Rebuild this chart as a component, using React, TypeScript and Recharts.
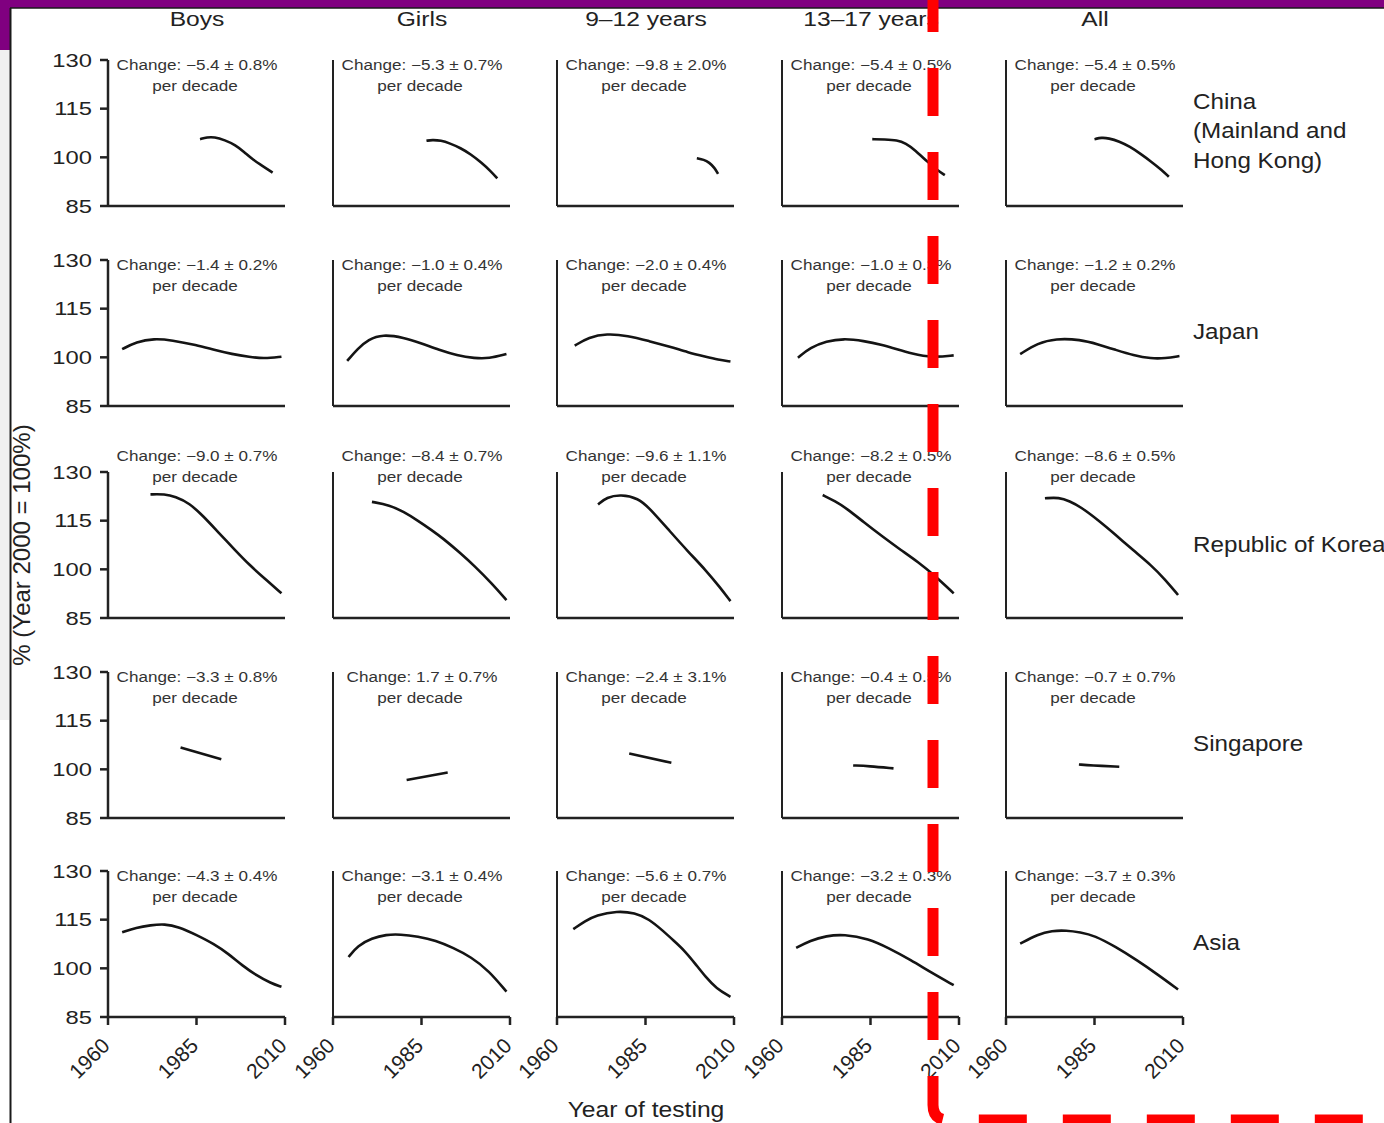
import React from 'react';
import { LineChart, Line, XAxis, YAxis } from 'recharts';

type Pt = [number, number];

const COLUMNS = ['Boys', 'Girls', '9–12 years', '13–17 years', 'All'];
const ROW_LABELS = [['China', '(Mainland and', 'Hong Kong)'], ['Japan'], ['Republic of Korea'], ['Singapore'], ['Asia']];
const X_TICKS = [1960, 1985, 2010];
const Y_TICKS = [85, 100, 115, 130];

// China (Mainland and Hong Kong)
const CHINA_BOYS: Pt[] = [[1986, 105.6], [1988, 106.2], [1990, 106.3], [1993, 105.3], [1996, 103.8], [1998.5, 101.6], [2001, 99.2], [2004, 97.1], [2006.5, 95.3]];
const CHINA_GIRLS: Pt[] = [[1986.4, 105.1], [1988, 105.4], [1990.5, 105.2], [1993, 104.3], [1996, 102.9], [1999, 100.9], [2002, 98.3], [2004.5, 95.8], [2006.4, 93.5]];
const CHINA_9_12: Pt[] = [[1999.5, 99.7], [2001.5, 99.3], [2003, 98.4], [2004.5, 96.8], [2005.5, 94.9]];
const CHINA_13_17: Pt[] = [[1985.5, 105.6], [1989, 105.5], [1992.5, 105.3], [1995, 104.3], [1997.5, 102.3], [2001.5, 98.2], [2004, 96], [2006, 94.5]];
const CHINA_ALL: Pt[] = [[1985, 105.6], [1987, 106.1], [1989, 105.9], [1992, 104.9], [1995, 103.3], [1998, 101.1], [2001, 98.7], [2004, 96.1], [2006, 94]];
const CHINA_CHANGE = ['−5.4 ± 0.8%', '−5.3 ± 0.7%', '−9.8 ± 2.0%', '−5.4 ± 0.5%', '−5.4 ± 0.5%'];

// Japan
const JAPAN_BOYS: Pt[] = [[1964, 102.5], [1968, 104.8], [1973, 105.8], [1978, 105.3], [1985, 103.8], [1990, 102.3], [1995, 101], [2000, 100.1], [2004, 99.6], [2009, 100.2]];
const JAPAN_GIRLS: Pt[] = [[1964, 98.9], [1967, 102.7], [1970, 105.5], [1974, 107.1], [1980, 106.1], [1985, 104.3], [1990, 102.3], [1995, 100.6], [2000, 99.7], [2004, 99.6], [2009, 101]];
const JAPAN_9_12: Pt[] = [[1965, 103.6], [1969, 106.2], [1974, 107.3], [1980, 106.7], [1986, 105], [1992, 103.3], [1997, 101.5], [2002, 100.2], [2005.5, 99.3], [2009, 98.7]];
const JAPAN_13_17: Pt[] = [[1964.5, 99.9], [1968, 103], [1972.5, 105], [1977.5, 105.8], [1983, 105.1], [1988.5, 103.8], [1992.5, 102.5], [1996.5, 101.2], [2002.5, 99.9], [2008.5, 100.6]];
const JAPAN_ALL: Pt[] = [[1964, 101], [1969, 104.4], [1974, 105.8], [1981, 105.5], [1986, 104], [1991, 102.3], [1996, 100.6], [2001, 99.6], [2005, 99.7], [2009, 100.4]];
const JAPAN_CHANGE = ['−1.4 ± 0.2%', '−1.0 ± 0.4%', '−2.0 ± 0.4%', '−1.0 ± 0.3%', '−1.2 ± 0.2%'];

// Republic of Korea
const KOREA_BOYS: Pt[] = [[1972, 123.1], [1976, 123.2], [1979, 122.4], [1983, 120.4], [1987, 116.3], [1991, 111.6], [1996, 105.8], [2000, 101.3], [2004, 97.4], [2009, 92.6]];
const KOREA_GIRLS: Pt[] = [[1971, 120.8], [1976, 119.8], [1980, 117.7], [1984, 115], [1988, 112], [1991, 109.6], [1996, 105], [2000, 101], [2005, 95.5], [2009, 90.5]];
const KOREA_9_12: Pt[] = [[1971.6, 120], [1974, 122.2], [1978, 123.1], [1983, 121.9], [1986, 119], [1992, 111.6], [1997, 105.5], [2002, 99.8], [2006, 94.5], [2009, 90.2]];
const KOREA_13_17: Pt[] = [[1971.5, 122.9], [1975, 121], [1978.5, 118.6], [1983, 114.6], [1988.5, 110], [1993.5, 106], [1998.5, 102.2], [2003, 98.2], [2008.5, 92.6]];
const KOREA_ALL: Pt[] = [[1971, 121.9], [1975, 122.2], [1978, 121], [1981, 119.3], [1986, 115.2], [1991, 110.6], [1996, 105.8], [2001, 101.3], [2005, 96.8], [2008.6, 92.1]];
const KOREA_CHANGE = ['−9.0 ± 0.7%', '−8.4 ± 0.7%', '−9.6 ± 1.1%', '−8.2 ± 0.5%', '−8.6 ± 0.5%'];

// Singapore
const SINGAPORE_BOYS: Pt[] = [[1980.5, 106.7], [1992, 103.1]];
const SINGAPORE_GIRLS: Pt[] = [[1980.8, 96.7], [1992.4, 99]];
const SINGAPORE_9_12: Pt[] = [[1980.4, 104.9], [1992.3, 102]];
const SINGAPORE_13_17: Pt[] = [[1980.1, 101.2], [1984.5, 101], [1991.5, 100.3]];
const SINGAPORE_ALL: Pt[] = [[1980.6, 101.5], [1984, 101.2], [1992, 100.8]];
const SINGAPORE_CHANGE = ['−3.3 ± 0.8%', '1.7 ± 0.7%', '−2.4 ± 3.1%', '−0.4 ± 0.5%', '−0.7 ± 0.7%'];

// Asia
const ASIA_BOYS: Pt[] = [[1964, 111.1], [1968, 112.6], [1972, 113.3], [1976, 113.7], [1980, 112.8], [1985, 110.3], [1990, 107.5], [1994, 104.5], [1998, 100.8], [2002, 97.8], [2006, 95.4], [2009, 94.3]];
const ASIA_GIRLS: Pt[] = [[1964.4, 103.5], [1967, 107], [1971, 109.3], [1975, 110.4], [1979, 110.5], [1984, 109.8], [1989, 108.6], [1994, 106.3], [1999, 103.5], [2004, 99.3], [2009, 92.8]];
const ASIA_9_12: Pt[] = [[1964.6, 112.1], [1968, 114.6], [1971, 116.4], [1977, 117.7], [1982, 117.1], [1986, 115.2], [1990, 111.5], [1993, 108.5], [1996, 105.5], [1999, 101.5], [2002, 97.3], [2005, 93.8], [2009, 91.2]];
const ASIA_13_17: Pt[] = [[1964, 106.3], [1968, 108.6], [1972.5, 110], [1977.5, 110.5], [1984.5, 109.1], [1990, 106.3], [1996.5, 102.5], [2002, 98.8], [2008.5, 94.8]];
const ASIA_ALL: Pt[] = [[1964, 107.6], [1969, 110.5], [1973, 111.6], [1977, 111.7], [1981, 111.1], [1985, 110.1], [1991, 106.6], [1997, 102.5], [2003, 98], [2008.6, 93.5]];
const ASIA_CHANGE = ['−4.3 ± 0.4%', '−3.1 ± 0.4%', '−5.6 ± 0.7%', '−3.2 ± 0.3%', '−3.7 ± 0.3%'];

const SERIES = [
  [CHINA_BOYS, CHINA_GIRLS, CHINA_9_12, CHINA_13_17, CHINA_ALL],
  [JAPAN_BOYS, JAPAN_GIRLS, JAPAN_9_12, JAPAN_13_17, JAPAN_ALL],
  [KOREA_BOYS, KOREA_GIRLS, KOREA_9_12, KOREA_13_17, KOREA_ALL],
  [SINGAPORE_BOYS, SINGAPORE_GIRLS, SINGAPORE_9_12, SINGAPORE_13_17, SINGAPORE_ALL],
  [ASIA_BOYS, ASIA_GIRLS, ASIA_9_12, ASIA_13_17, ASIA_ALL],
];
const CHANGES = [CHINA_CHANGE, JAPAN_CHANGE, KOREA_CHANGE, SINGAPORE_CHANGE, ASIA_CHANGE];

// layout
const FONT = "'Liberation Sans', Arial, Helvetica, sans-serif";
const COL_X = [108, 333, 557, 782, 1006];
const ROW_Y = [60, 260, 472, 672, 871];
const PLOT_W = 177;
const PLOT_H = 146;
const YW = 70;
const TOP = 60;
const INK = '#222';

function Txt({ x, y, size, sx = 1, anchor = 'middle', rotate = 0, color = INK, children }: any) {
  const start = anchor === 'start';
  return (
    <div
      style={{
        position: 'absolute',
        left: x,
        top: y,
        fontFamily: FONT,
        fontSize: size,
        lineHeight: 1,
        color,
        whiteSpace: 'nowrap',
        transformOrigin: start ? 'left center' : 'center center',
        transform: `translate(${start ? 0 : -50}%, -50%) ${rotate ? `rotate(${rotate}deg)` : ''} scaleX(${sx})`,
      }}
    >
      {children}
    </div>
  );
}

const YTick = ({ x, y, payload }: any) => (
  <text
    x={x}
    y={y}
    dy="0.36em"
    textAnchor="end"
    fontFamily={FONT}
    fontSize={19}
    fill={INK}
    transform={`translate(${x},0) scale(1.25,1) translate(${-x},0)`}
  >
    {payload.value}
  </text>
);

const XTick = ({ x, y, payload }: any) => (
  <g transform={`translate(${x + 3},${y + 20})`}>
    <text textAnchor="end" transform="rotate(-45)" fontFamily={FONT} fontSize={21} fill={INK}>
      {payload.value}
    </text>
  </g>
);

function Panel({ row, col }: { row: number; col: number }) {
  const data = SERIES[row][col].map(([year, value]) => ({ year, value }));
  const bottom = row === 4;
  const first = col === 0;
  const xh = bottom ? 80 : 4;
  const mb = bottom ? 0 : 16;
  const axis = { stroke: INK, strokeWidth: 2.5 };
  return (
    <div style={{ position: 'absolute', left: COL_X[col] - YW, top: ROW_Y[row] - TOP }}>
      <LineChart
        width={YW + PLOT_W + 30}
        height={TOP + PLOT_H + xh + mb}
        data={data}
        margin={{ top: TOP, right: 30, bottom: mb, left: 0 }}
      >
        <XAxis
          type="number"
          dataKey="year"
          domain={[1960, 2010]}
          ticks={X_TICKS}
          interval={0}
          height={xh}
          axisLine={axis}
          tickLine={bottom ? axis : false}
          tickSize={8}
          tick={bottom ? XTick : false}
        />
        <YAxis
          type="number"
          domain={[85, 130]}
          ticks={Y_TICKS}
          interval={0}
          width={YW}
          axisLine={first ? axis : { stroke: INK, strokeWidth: 2 }}
          tickLine={first ? axis : false}
          tickSize={8}
          tickMargin={8}
          tick={first ? YTick : false}
        />
        <Line
          type="basis"
          dataKey="value"
          stroke="#141414"
          strokeWidth={2.6}
          dot={false}
          isAnimationActive={false}
        />
      </LineChart>
    </div>
  );
}

export default function App() {
  const rows = [0, 1, 2, 3, 4];
  const cols = [0, 1, 2, 3, 4];
  return (
    <div
      style={{
        position: 'absolute',
        left: 0,
        top: 0,
        width: 1384,
        height: 1123,
        background: '#fff',
        overflow: 'hidden',
      }}
    >
      {rows.map((r) => cols.map((c) => <Panel key={`${r}-${c}`} row={r} col={c} />))}

      {COLUMNS.map((name, c) => (
        <Txt key={name} x={COL_X[c] + 89} y={19} size={20} sx={1.23}>
          {name}
        </Txt>
      ))}

      {rows.map((r) =>
        cols.map((c) => {
          const korea = r === 2;
          const y1 = ROW_Y[r] + (korea ? -16 : 5);
          return (
            <React.Fragment key={`a-${r}-${c}`}>
              <Txt x={COL_X[c] + 89} y={y1} size={14} sx={1.22} color="#333">
                Change: {CHANGES[r][c]}
              </Txt>
              <Txt x={COL_X[c] + 87} y={y1 + 21} size={14} sx={1.22} color="#333">
                per decade
              </Txt>
            </React.Fragment>
          );
        })
      )}

      {ROW_LABELS.map((lines, r) => {
        const mid = ROW_Y[r] + (r === 0 ? 71 : r === 2 ? 73 : 72);
        return lines.map((line, i) => (
          <Txt
            key={line}
            x={1193}
            y={mid + (i - (lines.length - 1) / 2) * 29.5}
            size={22}
            sx={1.1}
            anchor="start"
          >
            {line}
          </Txt>
        ));
      })}

      <Txt x={22} y={545} size={24} rotate={-90}>
        % (Year 2000 = 100%)
      </Txt>
      <Txt x={646} y={1110} size={22} sx={1.12}>
        Year of testing
      </Txt>

      {/* frame and marker overlay */}
      <svg
        width={1384}
        height={1123}
        style={{ position: 'absolute', left: 0, top: 0, pointerEvents: 'none' }}
      >
        <rect x={0} y={50} width={9} height={670} fill="#f1f1f1" />
        <rect x={0} y={0} width={1384} height={8} fill="#800080" />
        <rect x={0} y={0} width={10} height={50} fill="#800080" />
        <line x1={10} y1={8} x2={1384} y2={8} stroke="#1a1a1a" strokeWidth={1.5} />
        <line x1={10.5} y1={8} x2={10.5} y2={1123} stroke="#1a1a1a" strokeWidth={2} />
        <path
          d="M933,-16 V1105 Q933,1120 948,1120 H1400"
          fill="none"
          stroke="#ff0000"
          strokeWidth={11}
          strokeDasharray="48 36"
        />
      </svg>
    </div>
  );
}
